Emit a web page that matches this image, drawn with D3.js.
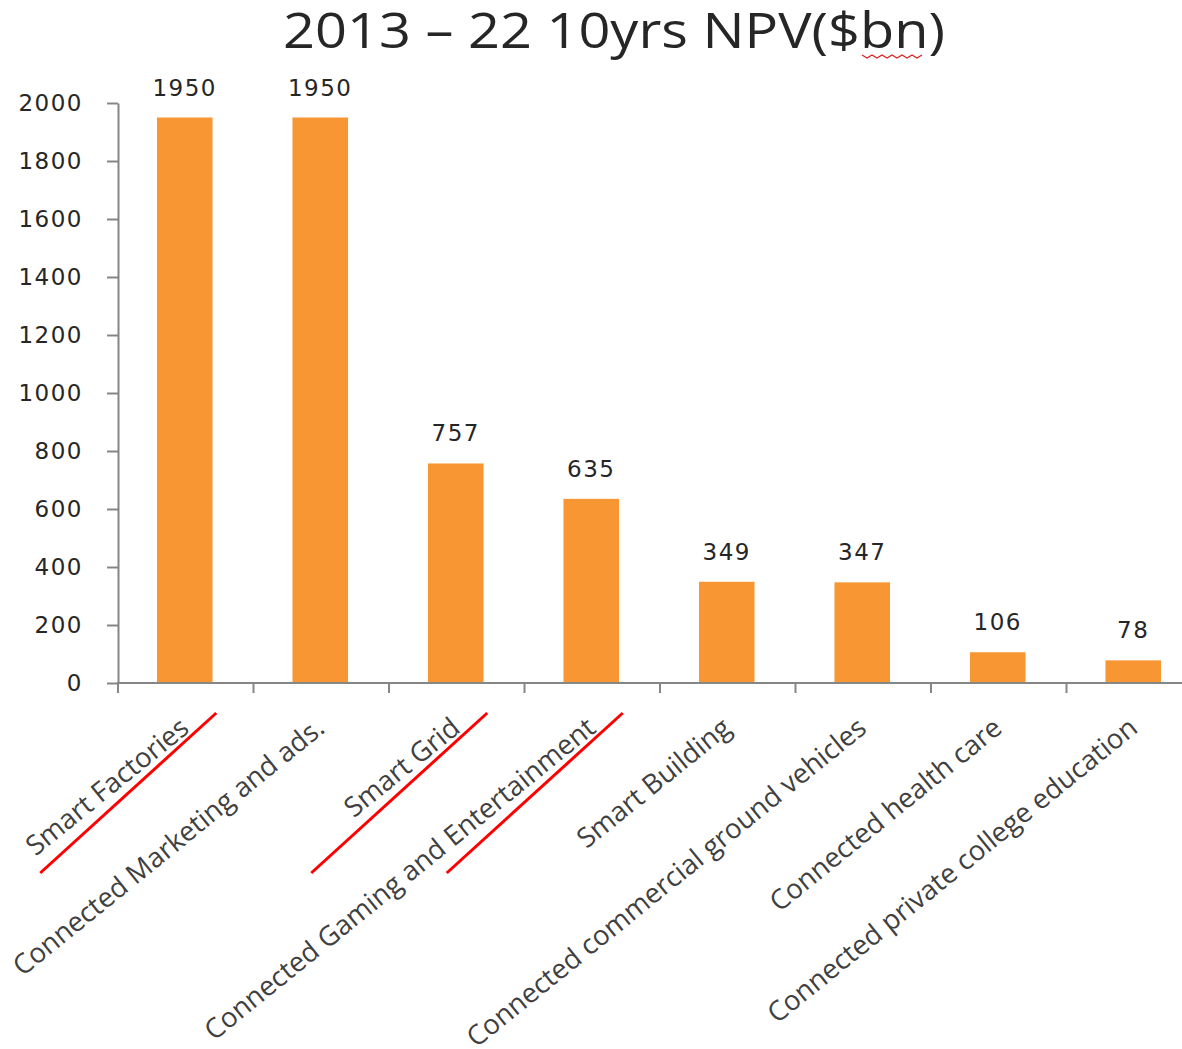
<!DOCTYPE html>
<html>
<head>
<meta charset="utf-8">
<script src="https://cdn.jsdelivr.net/npm/d3@7"></script>
<style>
  body { margin: 0; background: #fff; }
  svg { display: block; }
</style>
</head>
<body>
<div id="chart"></div>
<script>
const categories = ["Smart Factories", "Connected Marketing and ads.", "Smart Grid",
    "Connected Gaming and Entertainment", "Smart Building", "Connected commercial ground  vehicles",
    "Connected health care", "Connected private college education"];
const values = [1950, 1950, 757, 635, 349, 347, 106, 78];
const yTicks = [0, 200, 400, 600, 800, 1000, 1200, 1400, 1600, 1800, 2000];
const underlined = ["Smart Factories", "Smart Grid", "Connected Gaming and Entertainment"];
const title = "2013 \u2013 22 10yrs NPV($bn)";

const width = 1182, height = 1049;
const axisColor = "#868686";
const numFont = "DejaVu Sans";

const svg = d3.select("#chart").append("svg")
    .attr("width", width)
    .attr("height", height);

const x = d3.scaleBand()
    .domain(categories)
    .range([117, 1201])
    .paddingInner(0.59)
    .paddingOuter(0.295);

const y = d3.scaleLinear()
    .domain([0, 2000])
    .range([683, 103]);

// title (squiggly underline under "bn" like the spell check mark)
svg.append("text")
    .attr("x", 283)
    .attr("y", 48)
    .attr("textLength", 662)
    .attr("lengthAdjust", "spacingAndGlyphs")
    .style("font-family", "Open Sans")
    .style("font-size", "50px")
    .attr("fill", "#262626")
    .text(title);

const sq = d3.range(0, 13).map(i => [862 + i * 5, 56 + (i % 2 ? 2 : -1)]);
svg.append("path")
    .attr("d", d3.line()(sq))
    .attr("fill", "none")
    .attr("stroke", "#e02020")
    .attr("stroke-width", 1.2);

// y axis
const yAxis = svg.append("g")
    .attr("transform", "translate(118,0)")
    .call(d3.axisLeft(y).tickValues(yTicks).tickFormat(d3.format("d"))
        .tickSize(11).tickPadding(24).tickSizeOuter(0));
yAxis.select(".domain").attr("stroke", axisColor).attr("stroke-width", 2);
yAxis.selectAll(".tick line").attr("stroke", axisColor).attr("stroke-width", 2);
yAxis.selectAll(".tick text")
    .style("font-family", numFont)
    .style("font-size", "23px")
    .style("letter-spacing", "1.5px")
    .attr("fill", "#262626");

// bars
svg.selectAll("rect.bar")
    .data(values)
    .enter()
    .append("rect")
    .attr("class", "bar")
    .attr("x", (d, i) => x(categories[i]))
    .attr("y", d => y(d))
    .attr("width", x.bandwidth())
    .attr("height", d => y(0) - y(d))
    .attr("fill", "#f79632");

// value labels
svg.selectAll("text.val")
    .data(values)
    .enter()
    .append("text")
    .attr("class", "val")
    .attr("x", (d, i) => x(categories[i]) + x.bandwidth() / 2)
    .attr("y", d => y(d) - 22)
    .attr("text-anchor", "middle")
    .style("font-family", numFont)
    .style("font-size", "23px")
    .style("letter-spacing", "1.5px")
    .attr("fill", "#262626")
    .text(d => d);

// x axis line and boundary ticks
svg.append("line")
    .attr("x1", 117).attr("x2", width)
    .attr("y1", y(0)).attr("y2", y(0))
    .attr("stroke", axisColor).attr("stroke-width", 2);

const gap = (x.step() - x.bandwidth()) / 2;
svg.selectAll("line.xtick")
    .data(categories)
    .enter()
    .append("line")
    .attr("class", "xtick")
    .attr("x1", d => x(d) - gap + 1).attr("x2", d => x(d) - gap + 1)
    .attr("y1", y(0)).attr("y2", y(0) + 10)
    .attr("stroke", axisColor).attr("stroke-width", 2);

// category labels
const labels = svg.selectAll("g.xlabel")
    .data(categories)
    .enter()
    .append("g")
    .attr("class", "xlabel")
    .attr("transform", d => `translate(${x(d) + x.bandwidth() / 2 + 6},731)`);

labels.append("text")
    .attr("transform", "rotate(-39)")
    .attr("text-anchor", "end")
    .style("font-family", "Open Sans")
    .style("font-size", "27.5px")
    .attr("fill", "#404040")
    .text(d => d);

// red underline marks
labels.filter(d => underlined.includes(d))
    .append("line")
    .attr("x1", 25.5).attr("y1", -18)
    .attr("x2", -150.5).attr("y2", 142)
    .attr("stroke", "#ff0000")
    .attr("stroke-width", 3);
</script>
</body>
</html>
